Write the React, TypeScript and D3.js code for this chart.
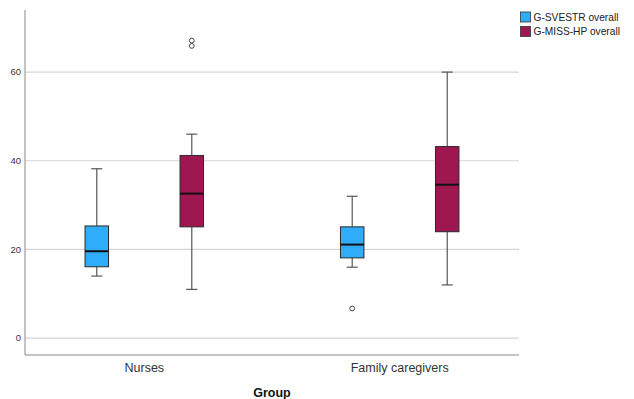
import React from 'react';
import * as d3 from 'd3';

// Data
const groups = ['Nurses', 'Family caregivers'];
const series = ['G-SVESTR overall', 'G-MISS-HP overall'];
const seriesColors = ['#2fadfb', '#9e1750'];

// one value per group, per series
const whiskerLow = [
  [14, 16],
  [11, 12],
];
const q1 = [
  [16.1, 18.1],
  [25.1, 24],
];
const median = [
  [19.6, 21.1],
  [32.6, 34.6],
];
const q3 = [
  [25.3, 25.1],
  [41.2, 43.2],
];
const whiskerHigh = [
  [38.2, 32],
  [46, 60],
];
const outliers = [
  [[], [6.7]],
  [[67.1, 65.9], []],
];

const yTicks = [0, 20, 40, 60];

const App = () => {
  const width = 634;
  const height = 399;
  const left = 25;
  const right = 519;
  const top = 10;
  const bottom = 355;
  const font = 'Arial, "Liberation Sans", sans-serif';

  const y = d3.scaleLinear().domain([-3.8, 74]).range([bottom, top]);
  const x = d3.scalePoint().domain(groups).range([left, right]).padding(0.467);
  const xSub = d3.scalePoint().domain(series).range([-47.5, 47.5]);
  const boxW = 23.5;
  const capW = 11;

  return (
    <svg
      width={width}
      height={height}
      style={{ position: 'absolute', left: 0, top: 0, background: '#fff' }}
    >
      {/* grid */}
      {yTicks.map((t) => (
        <g key={t}>
          <line x1={left} x2={right} y1={y(t)} y2={y(t)} stroke="#d6d6d6" strokeWidth={1.2} />
          <text
            x={left - 4}
            y={y(t)}
            dy="0.35em"
            textAnchor="end"
            fontFamily={font}
            fontSize={9.5}
            fill="#333"
          >
            {t}
          </text>
        </g>
      ))}

      {/* axes */}
      <line x1={left} x2={left} y1={top} y2={bottom} stroke="#8a8a8a" strokeWidth={1} />
      <line x1={left} x2={right} y1={bottom} y2={bottom} stroke="#8a8a8a" strokeWidth={1} />

      {groups.map((g) => (
        <text
          key={g}
          x={x(g)}
          y={372}
          textAnchor="middle"
          fontFamily={font}
          fontSize={12.5}
          fill="#333"
        >
          {g}
        </text>
      ))}
      <text
        x={272}
        y={396.5}
        textAnchor="middle"
        fontFamily={font}
        fontSize={12.5}
        fontWeight="bold"
        fill="#111"
      >
        Group
      </text>

      {/* boxes */}
      {series.map((s, si) =>
        groups.map((g, gi) => {
          const cx = (x(g) as number) + (xSub(s) as number);
          return (
            <g key={s + g}>
              <line
                x1={cx}
                x2={cx}
                y1={y(whiskerHigh[si][gi])}
                y2={y(q3[si][gi])}
                stroke="#555"
                strokeWidth={1.2}
              />
              <line
                x1={cx}
                x2={cx}
                y1={y(q1[si][gi])}
                y2={y(whiskerLow[si][gi])}
                stroke="#555"
                strokeWidth={1.2}
              />
              <line
                x1={cx - capW / 2}
                x2={cx + capW / 2}
                y1={y(whiskerHigh[si][gi])}
                y2={y(whiskerHigh[si][gi])}
                stroke="#555"
                strokeWidth={1.2}
              />
              <line
                x1={cx - capW / 2}
                x2={cx + capW / 2}
                y1={y(whiskerLow[si][gi])}
                y2={y(whiskerLow[si][gi])}
                stroke="#555"
                strokeWidth={1.2}
              />
              <rect
                x={cx - boxW / 2}
                y={y(q3[si][gi])}
                width={boxW}
                height={y(q1[si][gi]) - y(q3[si][gi])}
                fill={seriesColors[si]}
                stroke="#2a2a2a"
                strokeWidth={1}
              />
              <line
                x1={cx - boxW / 2}
                x2={cx + boxW / 2}
                y1={y(median[si][gi])}
                y2={y(median[si][gi])}
                stroke="#111"
                strokeWidth={2}
              />
              {outliers[si][gi].map((v, i) => (
                <circle
                  key={i}
                  cx={cx}
                  cy={y(v)}
                  r={2.4}
                  fill="none"
                  stroke="#444"
                  strokeWidth={1}
                />
              ))}
            </g>
          );
        })
      )}

      {/* legend */}
      {series.map((s, si) => (
        <g key={s} transform={`translate(520.5, ${12 + si * 14.5})`}>
          <rect width={10} height={10} fill={seriesColors[si]} stroke="#333" strokeWidth={0.8} />
          <text x={13} y={5} dy="0.35em" fontFamily={font} fontSize={10.2} fill="#222">
            {s}
          </text>
        </g>
      ))}
    </svg>
  );
};

export default App;
